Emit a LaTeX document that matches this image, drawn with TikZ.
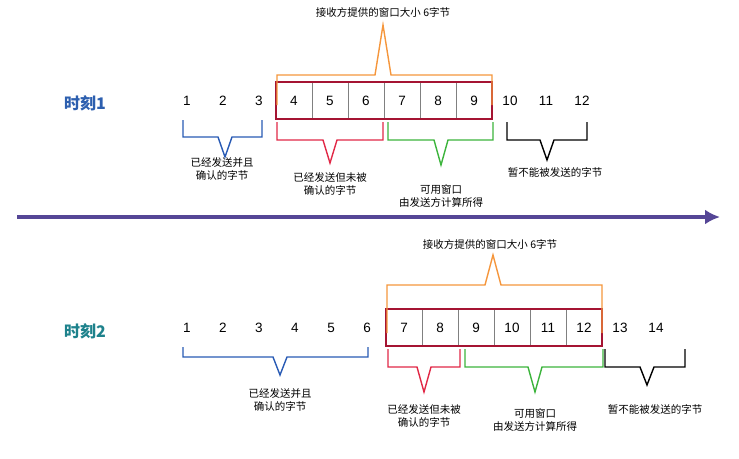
\documentclass[tikz,border=0pt]{standalone}
\usepackage{fontspec}
\usetikzlibrary{arrows.meta}
\setmainfont{Liberation Sans}
\newfontfamily\cjk{Noto Sans CJK SC}
\definecolor{ob}{RGB}{245,150,60}
\definecolor{bb}{RGB}{40,90,180}
\definecolor{rb}{RGB}{225,40,70}
\definecolor{gb}{RGB}{60,180,60}
\definecolor{wb}{RGB}{165,20,50}
\definecolor{ar}{RGB}{85,70,150}
\definecolor{t1}{RGB}{45,95,175}
\definecolor{t2}{RGB}{30,130,140}
\begin{document}
\begin{tikzpicture}[x=1pt,y=-1pt,
  num/.style={font=\fontsize{13.5}{13.5}\selectfont, inner sep=0pt},
  lab/.style={font=\cjk\fontsize{10.5}{13.5}\selectfont, align=center, inner sep=0pt},
  ttl/.style={font=\cjk\bfseries\fontsize{16}{16}\selectfont, inner sep=0pt},
  cell/.style={draw=gray, minimum width=36pt, minimum height=37pt, inner sep=0pt, font=\fontsize{13.5}{13.5}\selectfont},
  win/.style={draw=wb, line width=2.2pt},
  br/.style={line width=1.4pt}]
\useasboundingbox (0,0) rectangle (739,458);
\newcommand{\brc}[7]{% color,x1,x2,ytop,yh,xm,ytip
  \draw[br,#1] (#2,#4) -- (#2,#5) -- (#6-7,#5) -- (#6,#7) -- (#6+7,#5) -- (#3,#5) -- (#3,#4);}
% Row 1
\node[ttl,text=t1] (T1) at (85,103) {时刻1};
\foreach \n/\x in {1/187,2/223,3/259,10/510,11/546,12/582}{\node[num] (a\n) at (\x,101) {\n};}
\foreach \n/\x in {4/294,5/330,6/366,7/402,8/438,9/474}{\node[cell] (a\n) at (\x,100.5) {\n};}
\draw[win] (276,82) rectangle (492,119);
\draw[br,ob] (277,105) -- (277,75) -- (375,75) -- (383,25) -- (391,75) -- (492,75) -- (492,105);
\node[lab] (o1) at (383,12) {接收方提供的窗口大小 6字节};
\brc{bb}{183}{262}{120}{137}{225}{157}
\node[lab] (b1) at (222,169) {已经发送并且\\确认的字节};
\brc{rb}{277}{383}{122}{140}{330}{163}
\node[lab] (r1) at (330,184) {已经发送但未被\\确认的字节};
\brc{gb}{388}{493}{122}{140}{441}{165}
\node[lab] (g1) at (441,196) {可用窗口\\由发送方计算所得};
\brc{black}{507}{587}{122}{140}{547}{160}
\node[lab] (k1) at (555,172) {暂不能被发送的字节};
% arrow
\coordinate (A0) at (17,217);
\coordinate (A1) at (720,217);
\draw[ar,line width=3.5pt,-{Latex[length=15pt,width=15pt]}] (A0) -- (A1);
% Row 2
\node[ttl,text=t2] (T2) at (85,331) {时刻2};
\foreach \n/\x in {1/187,2/223,3/259,4/295,5/331,6/367,13/620,14/656}{\node[num] (b\n) at (\x,328) {\n};}
\foreach \n/\x in {7/404,8/440,9/476,10/512,11/548,12/584}{\node[cell] (b\n) at (\x,327.5) {\n};}
\draw[win] (386,309) rectangle (602,346);
\draw[br,ob] (387,333) -- (387,285) -- (485,285) -- (493,255) -- (501,285) -- (602,285) -- (602,333);
\node[lab] (o2) at (490,244) {接收方提供的窗口大小 6字节};
\brc{bb}{183}{368}{347}{357}{280}{375}
\node[lab] (b2) at (280,400) {已经发送并且\\确认的字节};
\brc{rb}{388}{460}{349}{367}{424}{392}
\node[lab] (r2) at (424,416) {已经发送但未被\\确认的字节};
\brc{gb}{465}{603}{349}{367}{535}{392}
\node[lab] (g2) at (535,420) {可用窗口\\由发送方计算所得};
\brc{black}{605}{685}{349}{367}{647}{385}
\node[lab] (k2) at (655,409) {暂不能被发送的字节};
\end{tikzpicture}
\end{document}
